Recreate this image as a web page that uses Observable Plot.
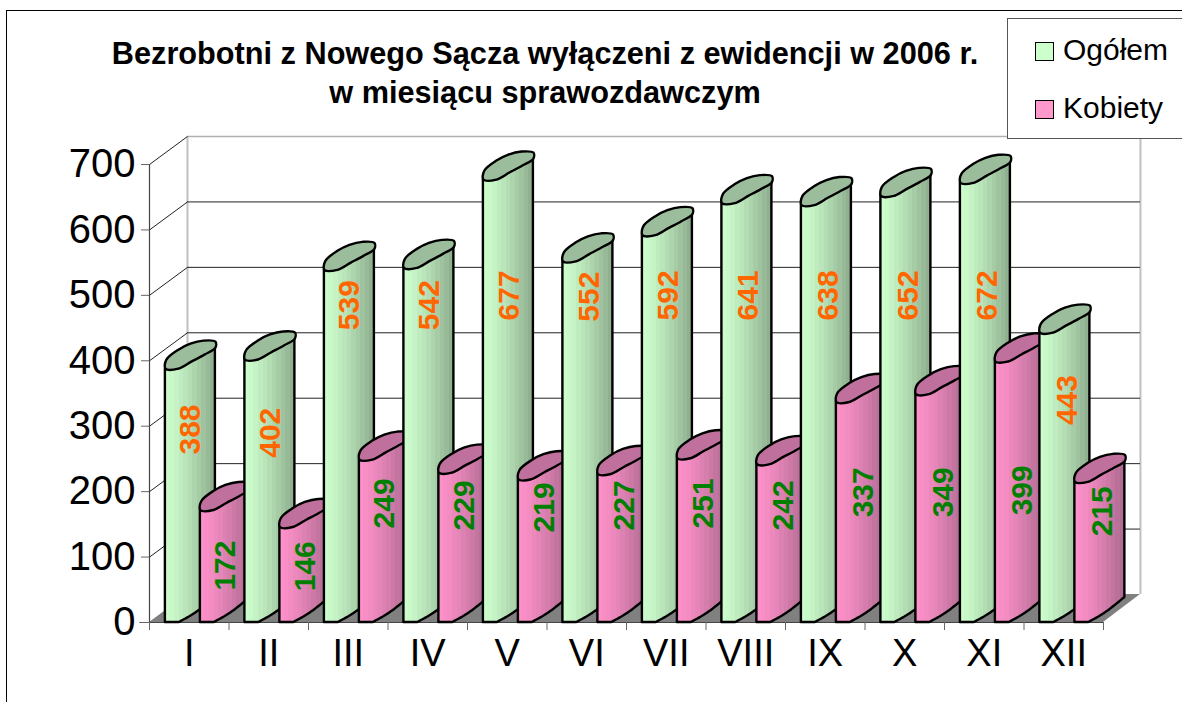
<!DOCTYPE html>
<html><head><meta charset="utf-8">
<script src="https://cdn.jsdelivr.net/npm/d3@7"></script>
<script src="https://cdn.jsdelivr.net/npm/@observablehq/plot@0.6"></script>
<style>
html,body{margin:0;padding:0;background:#fff;overflow:hidden}
#wrap{position:relative;width:1182px;height:702px;font-family:"Liberation Sans",Arial,sans-serif;color:#000}
#frameTop{position:absolute;left:6px;top:10px;right:0;height:1px;background:#000}
#frameLeft{position:absolute;left:6px;top:10px;bottom:0;width:1px;background:#000}
#title{position:absolute;left:60px;top:34px;width:970px;text-align:center;font-weight:bold;font-size:30.7px;line-height:39px;white-space:nowrap}
#legend{position:absolute;left:1007px;top:18px;width:175px;height:121px;border:1px solid #555;border-right:none;box-sizing:border-box;background:#fff}
.li{position:absolute;left:27px;font-size:30px;line-height:34px;white-space:nowrap}
.sw{display:inline-block;width:17px;height:17px;border:1.5px solid #000;margin-right:9px;vertical-align:-1px}
svg{position:absolute;left:0;top:0}
</style></head>
<body><div id="wrap">
<div id="frameTop"></div><div id="frameLeft"></div>
</div>
<script>
const months = ["I","II","III","IV","V","VI","VII","VIII","IX","X","XI","XII"];
const ogolem = [388,402,539,542,677,552,592,641,638,652,672,443];
const kobiety = [172,146,249,229,219,227,251,242,337,349,399,215];
const yTicks = [0,100,200,300,400,500,600,700];
const titleLines = ["Bezrobotni z Nowego Sącza wyłączeni z ewidencji w 2006 r.","w miesiącu sprawozdawczym"];
const legendNames = ["Ogółem","Kobiety"];

// layout (not data): vertical placement of the value labels, in axis units
const ogolemLabelAt = [295,290,485,485,500,498,500,500,500,500,500,340];
const kobietyLabelAt = [87,86,182,179,176,179,182,179,199,199,202,170];

const unit = 458/700;            // px per axis unit
const px = p => p/unit;
const barW = 50/79.5;
const wall = {dx:0.478, dy:px(28), right:12.465};
const bottomProfile = [[0,0],[.28,0],[.5,6],[.68,12],[.88,20],[1,25]];
const topProfile = [[0,0],[.28,0],[.52,7.5],[.76,14],[1,21]];

const rimPoints = [[-25,14],[-12,14],[1,7],[14,0],[25,-7],[25,-13],[13,-14],[0,-11],[-12,-5],[-24,5]];
const rim = {draw(ctx,size){
  const k = Math.sqrt(size/Math.PI)/25;
  d3.line().curve(d3.curveCatmullRomClosed.alpha(.5)).context(ctx)(rimPoints.map(([a,b])=>[a*k,b*k]));
}};

function bar(value,left,grad,topFill){
  const rows = d3.range(0,1.0001,.04).map(f=>{
    const at = pr=>{let i=1;while(i<pr.length-1&&pr[i][0]<f)i++;
      const [a,b]=pr[i-1],[c,d]=pr[i];return b+(d-b)*(f-a)/(c-a)};
    return {x:left+f*barW,y1:px(at(bottomProfile)),y2:value+px(at(topProfile))};
  });
  return [
    Plot.area(rows,{x1:"x",y1:"y1",y2:"y2",fill:`url(#${grad})`,stroke:"#000",strokeWidth:2.4,strokeLinejoin:"round"}),
    Plot.dot([0],{x:left+barW/2,y:value+px(14),r:25,symbol:rim,fill:topFill,stroke:"#000",strokeWidth:2.4})
  ];
}

const bars = months.flatMap((m,i)=>[
  ...bar(ogolem[i],i+.2,"gO","#9bbd9b"),
  ...bar(kobiety[i],i+.64,"gK","#c0709c")
]);
const floorRows = [
  {x:0,y1:0,y2:0},{x:wall.dx,y1:0,y2:wall.dy},{x:12,y1:0,y2:wall.dy},{x:wall.right,y1:wall.dy,y2:wall.dy}
];
const gridTicks = yTicks.filter(t=>t>0);

const chart = Plot.plot({
  width:1182,height:702,
  marginLeft:149,marginRight:79,marginTop:164,marginBottom:80,
  x:{type:"linear",domain:[0,12]},
  y:{domain:[0,700]},
  style:{fontFamily:"'Liberation Sans',Arial,sans-serif",background:"transparent",color:"#000"},
  marks:[
    Plot.area(floorRows,{x1:"x",y1:"y1",y2:"y2",fill:"#808080"}),
    Plot.ruleX([wall.dx],{y1:wall.dy,y2:700+wall.dy,stroke:"#c0c0c0",strokeWidth:2}),
    Plot.ruleX([wall.right],{y1:wall.dy,y2:700+wall.dy,stroke:"#c0c0c0",strokeWidth:2}),
    Plot.ruleY(gridTicks.slice(0,-1),{y:t=>t+wall.dy,x1:wall.dx,x2:wall.right,stroke:"#222",strokeWidth:1}),
    Plot.ruleY([700],{y:t=>t+wall.dy,x1:wall.dx,x2:wall.right,stroke:"#b0b0b0",strokeWidth:1.5}),
    Plot.link(gridTicks,{x1:0,y1:t=>t,x2:wall.dx,y2:t=>t+wall.dy,stroke:"#222",strokeWidth:1}),
    Plot.ruleX([0],{y1:0,y2:700,stroke:"#444",strokeWidth:1.2}),
    Plot.ruleY([0],{x1:-.12,x2:12,stroke:"#444",strokeWidth:1.2}),
    Plot.axisY({ticks:yTicks,fontSize:40,tickSize:8,tickPadding:6,label:null,stroke:"#666"}),
    Plot.axisX({ticks:d3.range(0,13),tickSize:8,tickFormat:()=>"",label:null,stroke:"#666"}),
    Plot.axisX({ticks:months.map((m,i)=>i+.5),tickSize:0,tickPadding:17,fontSize:38,tickFormat:v=>months[Math.floor(v)],label:null}),
    ...bars,
    Plot.text(ogolem,{x:(d,i)=>i+.2+barW/2+(i*.003),y:(d,i)=>ogolemLabelAt[i],text:d=>String(d),rotate:-90,fontSize:30,fontWeight:"bold",fill:"#ff6600"}),
    Plot.text(kobiety,{x:(d,i)=>i+.64+barW/2+(i*.003),y:(d,i)=>kobietyLabelAt[i],text:d=>String(d),rotate:-90,fontSize:30,fontWeight:"bold",fill:"#008000"})
  ]
});

// cylinder shading: banded horizontal gradients
const defs = d3.select(chart).append("defs");
function bandGradient(id,from,to){
  const n=11, g=defs.append("linearGradient").attr("id",id).attr("x1",0).attr("x2",1).attr("y1",0).attr("y2",0);
  const c=d3.interpolateRgb(from,to);
  for(let i=0;i<n;i++){
    const col=c(Math.pow(i/(n-1),1.3));
    g.append("stop").attr("offset",i/n).attr("stop-color",col);
    g.append("stop").attr("offset",(i+1)/n).attr("stop-color",col);
  }
}
bandGradient("gO","#ccfccc","#90b090");
bandGradient("gK","#fc90c8","#b06c92");

const wrap = document.getElementById("wrap");
wrap.appendChild(chart);
const t = document.createElement("div"); t.id="title";
t.innerHTML = titleLines.join("<br>");
wrap.appendChild(t);
const l = document.createElement("div"); l.id="legend";
const swatches = ["#ccffcc","#ff99cc"];
legendNames.forEach((n,i)=>{
  const d=document.createElement("div"); d.className="li"; d.style.top=(14+i*58)+"px";
  d.innerHTML=`<span class="sw" style="background:${swatches[i]}"></span>${n}`;
  l.appendChild(d);
});
wrap.appendChild(l);
</script></body></html>
